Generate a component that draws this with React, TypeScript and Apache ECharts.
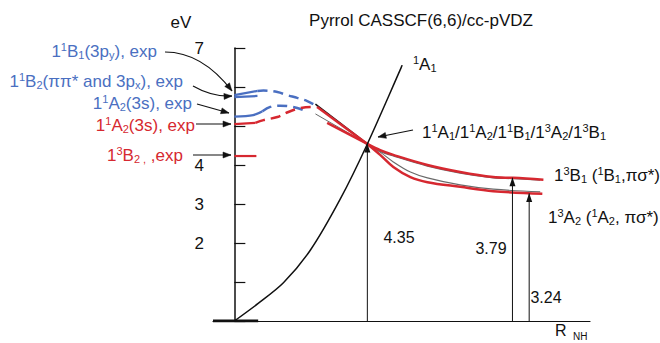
import React, { useEffect, useRef } from "react";
import * as echarts from "echarts";

const FONT = '"Liberation Sans", Arial, Helvetica, sans-serif';
const RED = "#d62830";
const BLUE = "#4a6fc1";
const GRAY = "#6a6a6a";
const BLACK = "#111111";

// y-axis: only these ticks carry a label
const yLabelled = [2, 3, 4, 7];

// experimental levels (solid, left) and their dashed extrapolations
const b1Exp = [[0, 5.79], [0.65, 5.9]];
const b2Exp = [[0, 5.74], [0.65, 5.77]];
const b1Dashed = [[0.65, 5.9], [0.82, 5.91], [1.21, 5.87], [1.49, 5.79], [1.77, 5.72], [2.05, 5.64], [2.36, 5.49]];
const a2BlueExp = [[0, 5.24], [0.53, 5.28], [0.79, 5.38]];
const a2BlueDashed = [[0.79, 5.38], [1.01, 5.49], [1.29, 5.52], [1.52, 5.51], [1.77, 5.46], [2.08, 5.36]];
const a2RedExp = [[0, 5.05], [0.59, 5.08]];
const a2RedDashed = [[0.59, 5.08], [0.82, 5.15], [1.21, 5.23], [1.52, 5.36], [1.86, 5.46], [2.19, 5.49], [2.33, 5.49]];
const b2TripletExp = [[0, 4.23], [0.62, 4.23]];

// computed curves converging at the crossing point
const blackIn = [[2.28, 5.56], [3.74, 4.54]];
const grayIn = [[2.28, 5.31], [3.74, 4.54]];
const redIn1 = [[2.33, 5.49], [3.74, 4.54]];
const redIn2 = [[2.61, 5.08], [3.74, 4.54]];

const b1Triplet = [[3.74, 4.54], [4.1, 4.38], [4.47, 4.26], [5.43, 4.0], [6.35, 3.82], [7.28, 3.69], [7.84, 3.67], [8.69, 3.62]];
const b1TripletGray = [[3.74, 4.54], [4.1, 4.35], [4.47, 4.23], [5.43, 3.97], [6.35, 3.79], [7.28, 3.67], [7.84, 3.65], [8.6, 3.61]];
const a2Triplet = [[3.74, 4.54], [4.1, 4.26], [4.47, 3.95], [4.95, 3.69], [5.43, 3.56], [6.35, 3.44], [7.28, 3.33], [8.66, 3.26]];
const a2TripletGray = [[3.74, 4.54], [4.1, 4.33], [4.47, 4.08], [4.95, 3.82], [5.43, 3.67], [6.35, 3.49], [7.28, 3.38], [8.6, 3.31]];

// ground state 1A1
const a1Ground = [[0, 0], [0.67, 0.45], [1.38, 0.98], [2.14, 1.82], [2.98, 3.13], [3.74, 4.54], [4.72, 6.56]];

// vertical energy arrows: x position, arrow tip
const arrowX = [3.74, 7.82, 8.29];
const arrowTop = [4.54, 3.67, 3.27];
const arrowText = ["4.35", "3.79", "3.24"];

const baseSegment = [[-0.6, 0], [0.67, 0]];

function rich(color: string) {
  return {
    sup: { fontSize: 11, fill: color, fontFamily: FONT, padding: [0, 0, 8, 0] },
    sub: { fontSize: 11, fill: color, fontFamily: FONT, padding: [8, 0, 0, 0] },
  };
}

function label(text: string, x: number, y: number, color: string, align: string, size = 17) {
  return {
    type: "text",
    x,
    y,
    silent: true,
    style: {
      text,
      fill: color,
      fontSize: size,
      fontFamily: FONT,
      align,
      verticalAlign: "middle",
      rich: rich(color),
    },
  };
}

function head(tx: number, ty: number, fx: number, fy: number, len = 8, w = 3) {
  const dx = tx - fx;
  const dy = ty - fy;
  const L = Math.hypot(dx, dy);
  const ux = dx / L;
  const uy = dy / L;
  const bx = tx - ux * len;
  const by = ty - uy * len;
  return {
    type: "polygon",
    silent: true,
    shape: { points: [[tx, ty], [bx - uy * w, by + ux * w], [bx + uy * w, by - ux * w]] },
    style: { fill: BLACK, stroke: BLACK, lineWidth: 0.5 },
  };
}

function straightArrow(x1: number, y1: number, x2: number, y2: number) {
  return [
    { type: "line", silent: true, shape: { x1, y1, x2, y2 }, style: { stroke: BLACK, lineWidth: 1.2 } },
    head(x2, y2, x1, y1),
  ];
}

function curvedArrow(x1: number, y1: number, cx: number, cy: number, x2: number, y2: number) {
  return [
    {
      type: "bezierCurve",
      silent: true,
      shape: { x1, y1, x2, y2, cpx1: cx, cpy1: cy },
      style: { stroke: BLACK, lineWidth: 1.2, fill: "none" },
    },
    head(x2, y2, cx, cy),
  ];
}

function lineSeries(data: number[][], color: string, width: number, dashed = false, z = 2, smooth: boolean | number = 0.35) {
  return {
    type: "line",
    data,
    symbol: "none",
    showSymbol: false,
    silent: true,
    smooth,
    z,
    lineStyle: { color, width, type: dashed ? [10, 6] : "solid", cap: "butt" },
  };
}

export default function App() {
  const ref = useRef<HTMLDivElement>(null);

  useEffect(() => {
    if (!ref.current) return;
    const chart = echarts.init(ref.current, undefined, { renderer: "svg" });

    const arrowSeries = arrowX.map((x, i) => ({
      type: "line",
      silent: true,
      z: 3,
      lineStyle: { color: BLACK, width: 1 },
      itemStyle: { color: BLACK },
      data: [
        { value: [x, 0], symbol: "none" },
        { value: [x, arrowTop[i]], symbol: "triangle", symbolSize: [6, 9], symbolOffset: [0, 4] },
      ],
    }));

    const graphic: any[] = [
      label("eV", 181, 22, BLACK, "center"),
      label("Pyrrol CASSCF(6,6)/cc-pVDZ", 421, 20, BLACK, "center"),
      label("1{sup|1}B{sub|1}(3p{sub|y}), exp", 157, 51, BLUE, "right"),
      label("1{sup|1}B{sub|2}(ππ* and 3p{sub|x}), exp", 183, 81, BLUE, "right"),
      label("1{sup|1}A{sub|2}(3s), exp", 192, 103, BLUE, "right"),
      label("1{sup|1}A{sub|2}(3s), exp", 195, 125, RED, "right"),
      label("1{sup|3}B{sub|2 ,} ,exp", 183, 155, RED, "right"),
      label("{sup|1}A{sub|1}", 413, 64, BLACK, "left"),
      label("1{sup|1}A{sub|1}/1{sup|1}A{sub|2}/1{sup|1}B{sub|1}/1{sup|3}A{sub|2}/1{sup|3}B{sub|1}", 422, 132, BLACK, "left"),
      label("1{sup|3}B{sub|1} ({sup|1}B{sub|1},πσ*)", 554, 175, BLACK, "left"),
      label("1{sup|3}A{sub|2} ({sup|1}A{sub|2}, πσ*)", 548, 217, BLACK, "left"),
      label(arrowText[0], 399, 237, BLACK, "center", 16),
      label(arrowText[1], 491, 248, BLACK, "center", 16),
      label(arrowText[2], 546, 297, BLACK, "center", 16),
      label("R", 555, 330, BLACK, "left", 16),
      label("NH", 573, 336, BLACK, "left", 10),
      ...curvedArrow(165, 52, 202, 52, 232, 91),
      ...curvedArrow(193, 86, 212, 97, 232, 96),
      ...straightArrow(197, 104, 229, 113),
      ...straightArrow(196, 124, 231, 124),
      ...straightArrow(193, 155, 231, 155),
      ...straightArrow(413, 130, 378, 137),
    ];

    chart.setOption({
      animation: false,
      grid: { left: 213, right: 70, top: 48, bottom: 22 },
      xAxis: {
        type: "value",
        min: -0.6,
        max: 10,
        axisLine: { lineStyle: { color: BLACK, width: 1.2 } },
        axisTick: { show: false },
        axisLabel: { show: false },
        splitLine: { show: false },
      },
      yAxis: {
        type: "value",
        min: 0,
        max: 7,
        interval: 1,
        axisLine: { show: true, onZero: true, lineStyle: { color: BLACK, width: 1.5 } },
        axisTick: { show: true, inside: true, length: 11, lineStyle: { color: BLACK, width: 1.2 } },
        axisLabel: {
          formatter: (v: number) => (yLabelled.includes(v) ? String(v) : ""),
          margin: 9,
          fontSize: 17,
          color: BLACK,
          fontFamily: FONT,
        },
        splitLine: { show: false },
      },
      graphic,
      series: [
        lineSeries(baseSegment, BLACK, 3, false, 3, false),
        lineSeries(a1Ground, BLACK, 1.5, false, 3, 0.3),
        lineSeries(b1Exp, BLUE, 2.2, false, 2, false),
        lineSeries(b2Exp, BLUE, 2.2, false, 2, false),
        lineSeries(b1Dashed, BLUE, 2.5, true),
        lineSeries(a2BlueExp, BLUE, 2.2, false, 2, 0.3),
        lineSeries(a2BlueDashed, BLUE, 2.5, true),
        lineSeries(a2RedExp, RED, 2.2, false, 2, false),
        lineSeries(a2RedDashed, RED, 2.5, true),
        lineSeries(b2TripletExp, RED, 2.2, false, 2, false),
        lineSeries(blackIn, BLACK, 1.5, false, 2, false),
        lineSeries(grayIn, GRAY, 1, false, 2, false),
        lineSeries(redIn1, RED, 2.5, false, 2, false),
        lineSeries(redIn2, RED, 2.5, false, 2, false),
        lineSeries(b1TripletGray, GRAY, 1.2, false, 2),
        lineSeries(a2TripletGray, GRAY, 1.2, false, 2),
        lineSeries(b1Triplet, RED, 2.5, false, 2),
        lineSeries(a2Triplet, RED, 2.5, false, 2),
        ...arrowSeries,
      ],
    });

    return () => chart.dispose();
  }, []);

  return (
    <div
      ref={ref}
      style={{ position: "fixed", left: 0, top: 0, width: 660, height: 343, background: "#fff" }}
    />
  );
}
